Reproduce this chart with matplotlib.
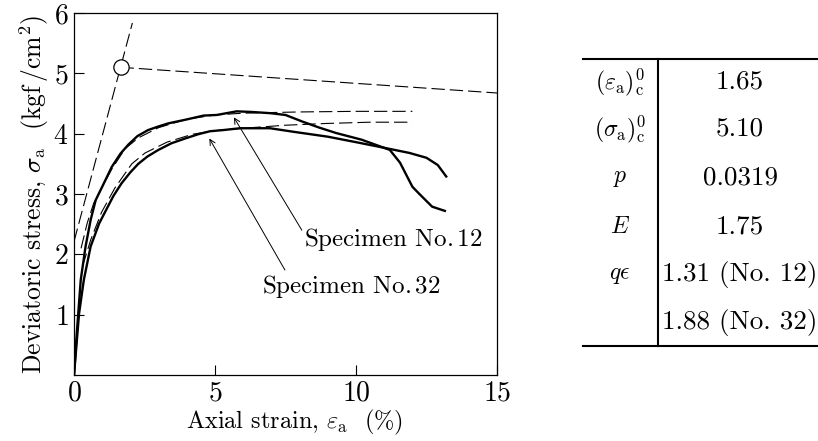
import matplotlib
matplotlib.use("Agg")
import matplotlib.pyplot as plt

plt.rcParams['font.family'] = 'serif'
plt.rcParams['font.serif'] = ['cmr10']
plt.rcParams['mathtext.fontset'] = 'cm'
plt.rcParams['axes.unicode_minus'] = False
plt.rcParams['axes.formatter.use_mathtext'] = True

# measured curves
strain_12 = [0, 0.1, 0.24, 0.41, 0.59, 0.77, 1.0, 1.34, 1.65, 1.93, 2.25, 2.63, 3.0, 3.34, 3.94, 4.6, 5.06,
             5.77, 6.3, 6.95, 7.5, 8.1, 8.7, 9.3, 10.2, 10.85, 11.2, 11.56, 12.0, 12.27, 12.7, 13.15]
stress_12 = [0, 0.7, 1.58, 2.13, 2.57, 2.9, 3.12, 3.45, 3.67, 3.82, 3.96, 4.06, 4.12, 4.17, 4.23, 4.30, 4.31,
             4.37, 4.36, 4.34, 4.31, 4.2, 4.1, 4.01, 3.9, 3.79, 3.73, 3.52, 3.12, 2.99, 2.79, 2.72]
strain_32 = [0, 0.18, 0.35, 0.59, 0.89, 1.1, 1.4, 1.69, 2.0, 2.28, 2.6, 2.99, 3.45, 3.94, 4.4, 4.82, 5.3,
             5.89, 6.95, 7.8, 9.0, 10.1, 10.85, 11.9, 12.5, 12.9, 13.2]
stress_32 = [0, 1.02, 1.58, 2.13, 2.51, 2.7, 2.97, 3.18, 3.36, 3.5, 3.62, 3.73, 3.84, 3.92, 3.99, 4.04, 4.06,
             4.09, 4.09, 4.03, 3.95, 3.85, 3.78, 3.68, 3.60, 3.48, 3.29]

# fitted curves
fit_strain_12 = [0.25, 0.47, 0.7, 1.0, 1.35, 1.81, 2.28, 3.0, 4.0, 5.0, 6.0, 8.0, 10.0, 12.0]
fit_stress_12 = [2.1, 2.52, 2.85, 3.12, 3.42, 3.75, 3.93, 4.1, 4.24, 4.31, 4.34, 4.36, 4.37, 4.37]
fit_strain_32 = [0.3, 0.6, 0.98, 1.45, 2.05, 2.52, 3.3, 4.2, 5.0, 6.0, 7.5, 9.0, 10.5, 12.0]
fit_stress_32 = [1.8, 2.25, 2.7, 3.1, 3.5, 3.68, 3.86, 3.99, 4.05, 4.09, 4.14, 4.17, 4.19, 4.19]

# bilinear envelope
eps_c, sig_c = 1.65, 5.10
E, p = 1.75, 0.0319
tangent_x = [0, 2.07]
slope_x = [eps_c, 15]

table_labels = [r'$(\varepsilon_{\rm a})^0_{\rm c}$', r'$(\sigma_{\rm a})^0_{\rm c}$', r'$p$', r'$E$',
                r'$q\epsilon$', '']
table_values = ['1.65', '5.10', '0.0319', '1.75', '1.31 (No. 12)', '1.88 (No. 32)']

fig = plt.figure(figsize=(8.18, 4.41), dpi=100)
ax = fig.add_axes([74 / 818, 66 / 441, 423 / 818, 362 / 441])

dash = (12, 4.5)
ax.plot(strain_12, stress_12, color='black', lw=1.7)
ax.plot(strain_32, stress_32, color='black', lw=1.7)
ax.plot(fit_strain_12, fit_stress_12, color='black', lw=0.8, dashes=dash)
ax.plot(fit_strain_32, fit_stress_32, color='black', lw=0.8, dashes=dash)
ax.plot(tangent_x, [sig_c - E * (eps_c - x) for x in tangent_x], color='black', lw=0.8, dashes=dash)
ax.plot(slope_x, [sig_c - p * (x - eps_c) for x in slope_x], color='black', lw=0.8, dashes=dash)
ax.plot([eps_c], [sig_c], 'o', ms=11, mfc='white', mec='black', mew=0.9, zorder=5)

ax.annotate('', xy=(5.67, 4.27), xytext=(8.08, 2.4),
            arrowprops=dict(arrowstyle='->', lw=0.7, color='black', shrinkA=0, shrinkB=0))
ax.annotate('', xy=(4.8, 3.92), xytext=(7.48, 1.74),
            arrowprops=dict(arrowstyle='->', lw=0.7, color='black', shrinkA=0, shrinkB=0))
ax.text(8.15, 2.24, r'Specimen No.$\,$12', fontsize=18, va='center', ha='left')
ax.text(6.67, 1.46, r'Specimen No.$\,$32', fontsize=18, va='center', ha='left')

ax.set_xlim(0, 15)
ax.set_ylim(0, 6)
ax.set_xticks([0, 5, 10, 15])
ax.set_yticks([1, 2, 3, 4, 5, 6])
ax.tick_params(direction='in', length=7, width=0.8, labelsize=20, pad=4)
ax.set_xlabel(r'Axial strain, $\varepsilon_{\rm a}$  (%)', fontsize=17.5, labelpad=0)
ax.xaxis.set_label_coords(0.52, -0.09)
ax.set_ylabel(r'Deviatoric stress, $\sigma_{\rm a}$  (kgf$\,$/cm$^2$)', fontsize=18.5, labelpad=2)
for s in ax.spines.values():
    s.set_linewidth(0.9)

# parameter table, figure pixel coordinates
tab = fig.add_axes([0, 0, 1, 1])
tab.set_xlim(0, 818)
tab.set_ylim(441, 0)
tab.axis('off')
tab.plot([583, 818], [59, 59], color='black', lw=1.5)
tab.plot([583, 818], [346, 346], color='black', lw=1.5)
tab.plot([658, 658], [59, 346], color='black', lw=1.5)
row_y = [82, 129, 178, 227, 275, 322]
for y, lab, val in zip(row_y, table_labels, table_values):
    tab.text(620, y, lab, fontsize=17, ha='center', va='center')
    tab.text(740, y, val, fontsize=19.5, ha='center', va='center')

fig.savefig('out.png', dpi=100)
